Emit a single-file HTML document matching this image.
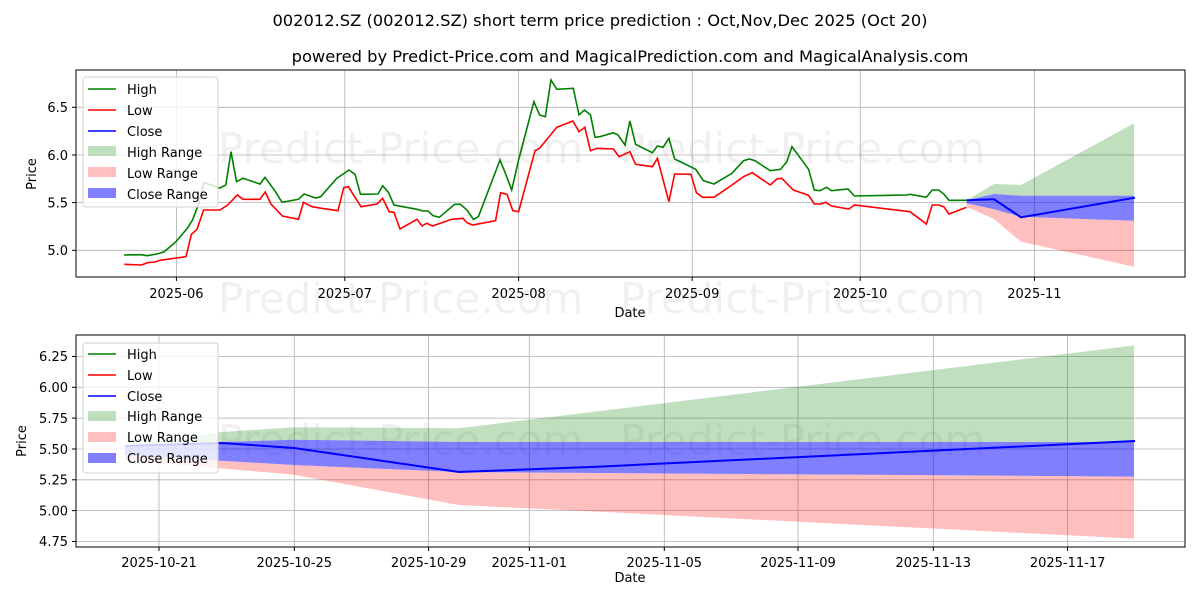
<!DOCTYPE html>
<html><head><meta charset="utf-8"><style>
body{margin:0;background:#fff}
svg{display:block;font-family:"DejaVu Sans","Liberation Sans",sans-serif}
</style></head><body>
<svg width="1200" height="600" viewBox="0 0 1200 600" xmlns="http://www.w3.org/2000/svg">
<text x="600" y="26" font-size="16.3" text-anchor="middle">002012.SZ (002012.SZ) short term price prediction : Oct,Nov,Dec 2025 (Oct 20)</text>
<text x="630" y="62" font-size="16.3" text-anchor="middle">powered by Predict-Price.com and MagicalPrediction.com and MagicalAnalysis.com</text>

<g fill="#000" fill-opacity="0.06" font-size="42">
<text x="218" y="163">Predict-Price.com</text>
<text x="620" y="163">Predict-Price.com</text>
<text x="218" y="313">Predict-Price.com</text>
<text x="620" y="313">Predict-Price.com</text>
<text x="218" y="455">Predict-Price.com</text>
<text x="620" y="455">Predict-Price.com</text>
</g>
<g stroke="#b0b0b0" stroke-width="0.8">
<line x1="176.4" y1="70" x2="176.4" y2="277"/><line x1="344.8" y1="70" x2="344.8" y2="277"/><line x1="518.6" y1="70" x2="518.6" y2="277"/><line x1="692.2" y1="70" x2="692.2" y2="277"/><line x1="860.2" y1="70" x2="860.2" y2="277"/><line x1="1034.4" y1="70" x2="1034.4" y2="277"/>
<line x1="76" y1="250.3" x2="1185" y2="250.3"/><line x1="76" y1="202.6" x2="1185" y2="202.6"/><line x1="76" y1="155" x2="1185" y2="155"/><line x1="76" y1="107.3" x2="1185" y2="107.3"/>
</g>
<polygon fill="#008000" fill-opacity="0.25" points="966.6,200.3 994.2,184 1021,185 1134,123.3 1134,195.7 1021,195.7 994,194"/>
<polygon fill="#ff0000" fill-opacity="0.25" points="966.6,203.3 994,209.3 1021,216.7 1134,220.7 1134,266.7 1021,241.7 994,219 966.6,206.7"/>
<polygon fill="#0000ff" fill-opacity="0.5" points="966.6,200.3 994,194 1021,195.7 1134,195.7 1134,220.7 1021,216.7 994,209.3 966.6,203.3"/>
<polyline fill="none" stroke="#008000" stroke-width="1.6" points="124,255 141.6,254.7 147,255.7 157,254 163.8,252 176,241.7 187.5,228 192.5,220 199,203 204,182.7 220,188 225.8,185 231,151.7 236.5,181.7 243,178.3 260,184 265,177.3 275.5,191.7 282,202.3 298.5,199.3 304,194 315.7,198 320.7,196.7 336.8,178.3 349,170 355,174.3 360.5,194.3 378,194 382.7,185.7 388.4,192.3 394,205 417,209.3 423,211 428,211 433,215.7 439.3,217.3 454.7,204.3 460.4,204.3 467,210 473.4,219.3 478.4,216.7 500,160 505,172.3 511.7,190 518.6,160 533.9,101.7 539.6,115 545.3,116.7 551,80 556.8,89.3 573.3,88.3 579,115 584.4,110 590.5,115 595,137.3 600,136.7 613.4,132.7 618,135 625,145 629.9,121 635.6,144.3 652.4,152.7 657.4,146 663,147.3 668.9,138.3 674.6,159 695.7,169.3 703.3,180.7 714,184 732,173.3 743.5,160.7 749.3,159 755,160.7 770.3,170.7 780.6,169.3 786.8,161.7 792,146.7 808.6,169.3 814.3,190 820,190.7 826.6,187.3 831.5,190.7 848,189 854.5,196 906.2,195 910,194.3 926.4,197.3 932.2,190 938.7,190 943.7,194 949,200.3 966.6,200.3"/>
<polyline fill="none" stroke="#ff0000" stroke-width="1.6" points="124.4,264.3 141.6,265 147.3,262.7 155,262 160,260.3 186,256.7 191.4,234.3 197,229.3 203.6,210 220,210 227.7,205 237.3,195 243,199.3 260,199.3 265.2,192 271,204 282.4,216 298.5,219.3 303.5,202.3 312,206.7 321.5,208.3 338,210.7 343.7,187.7 348.3,186.7 361,206.7 377,204 382.7,198.3 389.2,211.7 394,212.3 400,229 417,219.3 422,226 426.7,223.3 432.5,226 451.6,219.3 463,218.3 467,222.7 472.6,225 495.6,220.7 500.6,192.7 507,194.3 512.8,210.7 518.6,211.7 535,150.7 539.6,148.3 556.8,127.3 572.9,121 579,131.7 584.8,127.3 590.5,150.7 597,148.3 613.4,149 619,156.7 629.9,151.7 635.6,164.3 652.4,166.7 657.4,158.3 668.9,201.7 674.6,174 691,174.3 696.4,192.7 702.6,197.3 714,197.3 732,185 743.5,176.7 752.3,172.7 770.3,185 776.8,179 781.8,178.3 793.3,190 808.6,195.3 814.3,204 820.8,204 825.8,202.3 831.5,206 848.8,209 854.5,205 910,211.7 926.4,224 932.2,205 938.7,205 943.7,206.7 949,214 966.6,207.3"/>
<polyline fill="none" stroke="#0000ff" stroke-width="2" points="966.6,200.3 994,199.3 1021,217.3 1135,197.7"/>
<rect x="76" y="70" width="1109" height="207" fill="none" stroke="#000" stroke-width="1"/>
<g font-size="13" fill="#000">
<g stroke="#000"><line x1="176.4" y1="277" x2="176.4" y2="281"/><line x1="344.8" y1="277" x2="344.8" y2="281"/><line x1="518.6" y1="277" x2="518.6" y2="281"/><line x1="692.2" y1="277" x2="692.2" y2="281"/><line x1="860.2" y1="277" x2="860.2" y2="281"/><line x1="1034.4" y1="277" x2="1034.4" y2="281"/>
<line x1="72" y1="250.3" x2="76" y2="250.3"/><line x1="72" y1="202.6" x2="76" y2="202.6"/><line x1="72" y1="155" x2="76" y2="155"/><line x1="72" y1="107.3" x2="76" y2="107.3"/></g>
<g text-anchor="middle"><text x="176.4" y="298">2025-06</text><text x="344.8" y="298">2025-07</text><text x="518.6" y="298">2025-08</text><text x="692.2" y="298">2025-09</text><text x="860.2" y="298">2025-10</text><text x="1034.4" y="298">2025-11</text></g>
<g text-anchor="end"><text x="68" y="255">5.0</text><text x="68" y="207.5">5.5</text><text x="68" y="160">6.0</text><text x="68" y="112">6.5</text></g>
<text x="630" y="317" text-anchor="middle">Date</text>
<text transform="translate(36,174) rotate(-90)" text-anchor="middle">Price</text>
</g>
<g font-size="13">
<rect x="83" y="77" width="135" height="130" rx="3" fill="#fff" fill-opacity="0.8" stroke="#d0d0d0"/>
<line x1="88" y1="89" x2="116" y2="89" stroke="#008000" stroke-width="1.6"/><text x="127" y="94">High</text>
<line x1="88" y1="110" x2="116" y2="110" stroke="#ff0000" stroke-width="1.6"/><text x="127" y="115">Low</text>
<line x1="88" y1="131" x2="116" y2="131" stroke="#0000ff" stroke-width="1.6"/><text x="127" y="136">Close</text>
<rect x="88" y="146" width="28" height="10" fill="#008000" fill-opacity="0.25"/><text x="127" y="157">High Range</text>
<rect x="88" y="167" width="28" height="10" fill="#ff0000" fill-opacity="0.25"/><text x="127" y="178">Low Range</text>
<rect x="88" y="188" width="28" height="10" fill="#0000ff" fill-opacity="0.5"/><text x="127" y="199">Close Range</text>
</g>

<!-- BOTTOM CHART -->
<g stroke="#b0b0b0" stroke-width="0.8">
<line x1="159" y1="335" x2="159" y2="547"/><line x1="294.3" y1="335" x2="294.3" y2="547"/><line x1="428.6" y1="335" x2="428.6" y2="547"/><line x1="529.3" y1="335" x2="529.3" y2="547"/><line x1="664.3" y1="335" x2="664.3" y2="547"/><line x1="798" y1="335" x2="798" y2="547"/><line x1="933.3" y1="335" x2="933.3" y2="547"/><line x1="1067.6" y1="335" x2="1067.6" y2="547"/>
<line x1="76" y1="356.5" x2="1185" y2="356.5"/><line x1="76" y1="387.3" x2="1185" y2="387.3"/><line x1="76" y1="418.1" x2="1185" y2="418.1"/><line x1="76" y1="449" x2="1185" y2="449"/><line x1="76" y1="479.8" x2="1185" y2="479.8"/><line x1="76" y1="510.6" x2="1185" y2="510.6"/><line x1="76" y1="541.5" x2="1185" y2="541.5"/>
</g>
<polygon fill="#008000" fill-opacity="0.25" points="125,446 222,432 294.3,427.2 459.2,428.3 1134,345.5 1134,442 459,442 294,439.7 222,442 125,447"/>
<polygon fill="#ff0000" fill-opacity="0.25" points="125,455 294,465 459,472 1134,476.6 1134,538.6 664,515 600,511.7 459,505 294,474.8 125,460"/>
<polygon fill="#0000ff" fill-opacity="0.5" points="125,447 222,442 294,439.7 459,442 1134,442 1134,476.6 459,472 294,465 125,455"/>
<polyline fill="none" stroke="#0000ff" stroke-width="2" points="125,446 222,443 294,448 459,472 600,466.6 1135,441"/>
<rect x="76" y="335" width="1109" height="212" fill="none" stroke="#000" stroke-width="1"/>
<g font-size="13" fill="#000">
<g stroke="#000"><line x1="159" y1="547" x2="159" y2="551"/><line x1="294.3" y1="547" x2="294.3" y2="551"/><line x1="428.6" y1="547" x2="428.6" y2="551"/><line x1="529.3" y1="547" x2="529.3" y2="551"/><line x1="664.3" y1="547" x2="664.3" y2="551"/><line x1="798" y1="547" x2="798" y2="551"/><line x1="933.3" y1="547" x2="933.3" y2="551"/><line x1="1067.6" y1="547" x2="1067.6" y2="551"/>
<line x1="72" y1="356.5" x2="76" y2="356.5"/><line x1="72" y1="387.3" x2="76" y2="387.3"/><line x1="72" y1="418.1" x2="76" y2="418.1"/><line x1="72" y1="449" x2="76" y2="449"/><line x1="72" y1="479.8" x2="76" y2="479.8"/><line x1="72" y1="510.6" x2="76" y2="510.6"/><line x1="72" y1="541.5" x2="76" y2="541.5"/></g>
<g text-anchor="middle"><text x="159" y="567">2025-10-21</text><text x="294.3" y="567">2025-10-25</text><text x="428.6" y="567">2025-10-29</text><text x="529.3" y="567">2025-11-01</text><text x="664.3" y="567">2025-11-05</text><text x="798" y="567">2025-11-09</text><text x="933.3" y="567">2025-11-13</text><text x="1067.6" y="567">2025-11-17</text></g>
<g text-anchor="end"><text x="68" y="361">6.25</text><text x="68" y="392">6.00</text><text x="68" y="423">5.75</text><text x="68" y="454">5.50</text><text x="68" y="484.5">5.25</text><text x="68" y="515.5">5.00</text><text x="68" y="546">4.75</text></g>
<text x="630" y="582" text-anchor="middle">Date</text>
<text transform="translate(26,441) rotate(-90)" text-anchor="middle">Price</text>
</g>
<g font-size="13">
<rect x="83" y="343" width="135" height="130" rx="3" fill="#fff" fill-opacity="0.8" stroke="#d0d0d0"/>
<line x1="88" y1="354" x2="116" y2="354" stroke="#008000" stroke-width="1.6"/><text x="127" y="359">High</text>
<line x1="88" y1="375" x2="116" y2="375" stroke="#ff0000" stroke-width="1.6"/><text x="127" y="380">Low</text>
<line x1="88" y1="396" x2="116" y2="396" stroke="#0000ff" stroke-width="1.6"/><text x="127" y="401">Close</text>
<rect x="88" y="411" width="28" height="10" fill="#008000" fill-opacity="0.25"/><text x="127" y="421">High Range</text>
<rect x="88" y="432" width="28" height="10" fill="#ff0000" fill-opacity="0.25"/><text x="127" y="442">Low Range</text>
<rect x="88" y="453" width="28" height="10" fill="#0000ff" fill-opacity="0.5"/><text x="127" y="463">Close Range</text>
</g>
</svg>
</body></html>
